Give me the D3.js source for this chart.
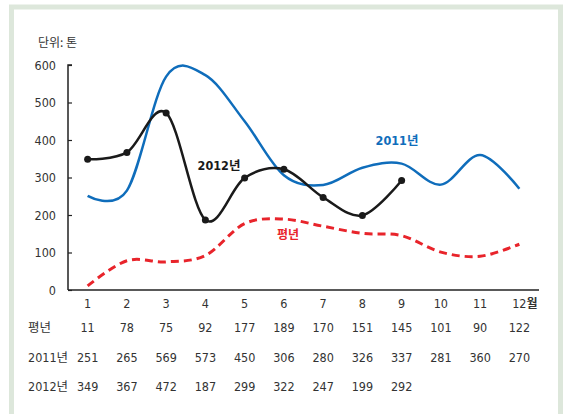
<!DOCTYPE html>
<html>
<head>
<meta charset="utf-8">
<script src="https://cdn.jsdelivr.net/npm/d3@7"></script>
<style>
  html, body { margin: 0; padding: 0; background: #fff; }
  text { font-family: "Liberation Sans Narrow", "DejaVu Sans Condensed", "Noto Sans CJK KR", sans-serif; font-stretch: condensed; fill: #333; }
  text.kr { font-family: "Noto Sans CJK KR", sans-serif; }
</style>
</head>
<body>
<div id="chart"></div>
<script>
const width = 565;
const height = 414;

// data
const months = [1, 2, 3, 4, 5, 6, 7, 8, 9, 10, 11, 12];
const normalYear = [11, 78, 75, 92, 177, 189, 170, 151, 145, 101, 90, 122];
const y2011 = [251, 265, 569, 573, 450, 306, 280, 326, 337, 281, 360, 270];
const y2012 = [349, 367, 472, 187, 299, 322, 247, 199, 292];
const yTicks = [0, 100, 200, 300, 400, 500, 600];
const rowLabels = ["평년", "2011년", "2012년"];

const svg = d3.select("#chart")
    .append("svg")
    .attr("width", width)
    .attr("height", height);

// light green frame
svg.append("rect")
    .attr("x", 11.5).attr("y", 7)
    .attr("width", 549).attr("height", 430)
    .attr("fill", "#fff")
    .attr("stroke", "#dde7db")
    .attr("stroke-width", 5);

const x = d3.scaleLinear().domain([0.5, 12.5]).range([68, 539]);
const y = d3.scaleLinear().domain([0, 600]).range([290, 65]);

// y axis (ticks pointing inward)
const yAxis = svg.append("g")
    .attr("transform", "translate(68,0)")
    .call(d3.axisRight(y).tickValues(yTicks).tickSize(4).tickFormat(""));
yAxis.select(".domain").attr("stroke", "#222").attr("stroke-width", 1.5).attr("d", "M4,65H0V290");
yAxis.selectAll(".tick line").attr("stroke", "#222").attr("stroke-width", 1.2);

svg.append("g").selectAll("text")
    .data(yTicks)
    .join("text")
    .attr("x", 56)
    .attr("y", d => y(d) + 4.5)
    .attr("text-anchor", "end")
    .style("font-size", "12.5px")
    .text(d => d);

// x axis line
svg.append("line")
    .attr("x1", 68).attr("x2", 539)
    .attr("y1", y(0)).attr("y2", y(0))
    .attr("stroke", "#222").attr("stroke-width", 1.5);

svg.append("text")
    .attr("class", "kr")
    .attr("x", 38).attr("y", 47)
    .style("font-size", "12px")
    .text("단위: 톤");

const line = (data) => d3.line()
    .x((d, i) => x(months[i]))
    .y(d => y(d))
    .curve(d3.curveCatmullRom.alpha(0))(data);

// normal year, dashed red
svg.append("path")
    .attr("d", line(normalYear))
    .attr("fill", "none")
    .attr("stroke", "#e8242b")
    .attr("stroke-width", 3)
    .attr("stroke-dasharray", "8,5");

// 2011 blue
svg.append("path")
    .attr("d", line(y2011))
    .attr("fill", "none")
    .attr("stroke", "#0f6dbb")
    .attr("stroke-width", 2.5);

// 2012 black with markers
svg.append("path")
    .attr("d", line(y2012))
    .attr("fill", "none")
    .attr("stroke", "#1a1a1a")
    .attr("stroke-width", 2.5);

svg.append("g").selectAll("circle")
    .data(y2012)
    .join("circle")
    .attr("cx", (d, i) => x(months[i]))
    .attr("cy", d => y(d))
    .attr("r", 3.5)
    .attr("fill", "#1a1a1a");

// series labels
svg.append("text").attr("x", 397).attr("y", 145).attr("text-anchor", "middle")
    .style("font-size", "12.5px").style("font-weight", "bold").style("fill", "#0f6dbb")
    .text("2011년");
svg.append("text").attr("x", 219).attr("y", 170).attr("text-anchor", "middle")
    .style("font-size", "12.5px").style("font-weight", "bold").style("fill", "#1a1a1a")
    .text("2012년");
svg.append("text").attr("class", "kr").attr("x", 288).attr("y", 239).attr("text-anchor", "middle")
    .style("font-size", "12px").style("font-weight", "bold").style("fill", "#e8242b")
    .text("평년");

// month labels
svg.append("g").selectAll("text")
    .data(months)
    .join("text")
    .attr("x", d => x(d))
    .attr("y", 308)
    .attr("text-anchor", "middle")
    .style("font-size", "12.5px")
    .text(d => d);
svg.append("text")
    .attr("class", "kr")
    .attr("x", x(12) + 7).attr("y", 308)
    .style("font-size", "12px").style("font-weight", "bold")
    .text("월");

// table below the chart
const rows = [normalYear, y2011, y2012];
const rowY = [332, 362, 391];
rows.forEach((vals, r) => {
    svg.append("text")
        .attr("x", 28).attr("y", rowY[r])
        .style("font-size", "12.5px")
        .text(rowLabels[r]);
    svg.append("g").selectAll("text")
        .data(vals)
        .join("text")
        .attr("x", (d, i) => x(months[i]))
        .attr("y", rowY[r])
        .attr("text-anchor", "middle")
        .style("font-size", "12.5px")
        .text(d => d);
});
</script>
</body>
</html>
